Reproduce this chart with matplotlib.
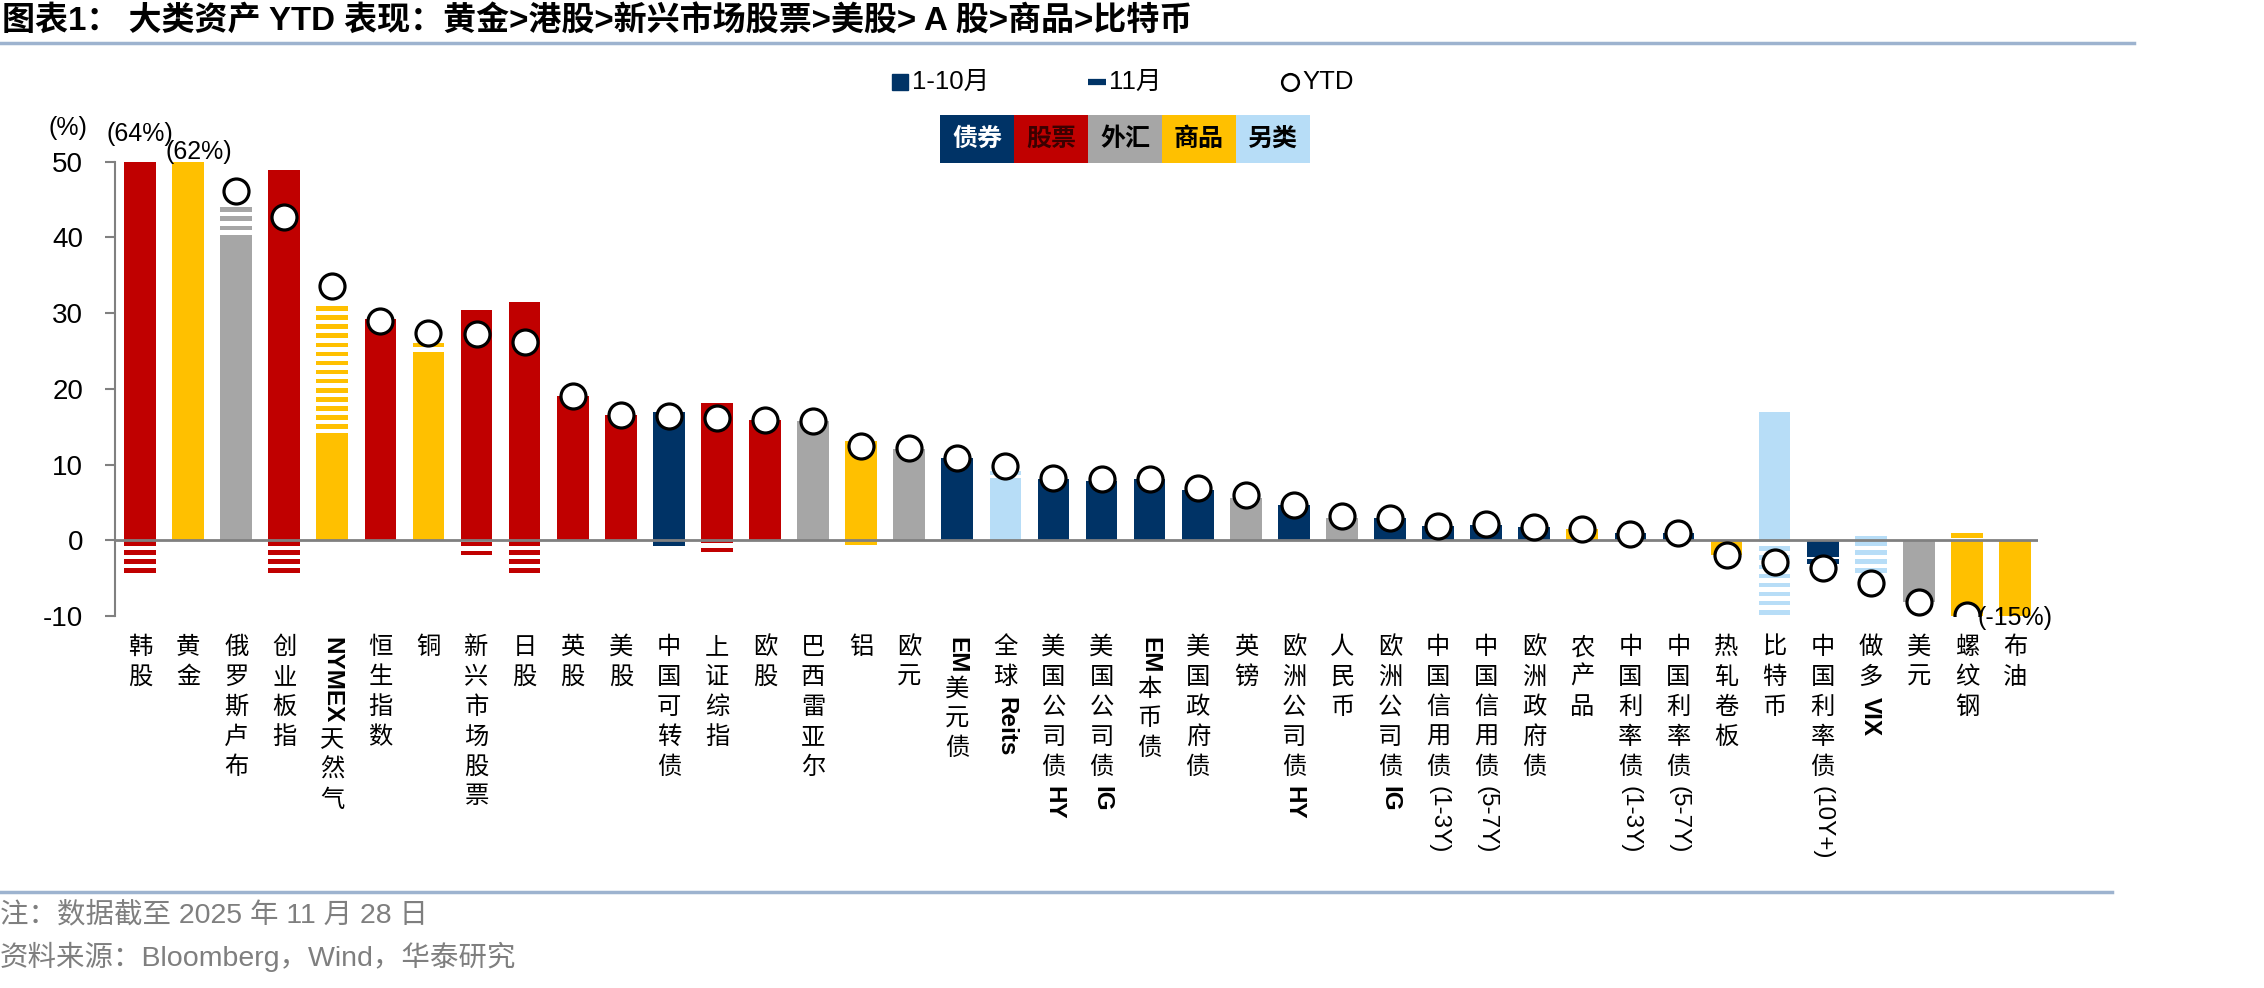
import matplotlib
matplotlib.use("Agg")
import matplotlib.pyplot as plt
from matplotlib.lines import Line2D
from matplotlib.patches import Rectangle
from matplotlib.textpath import TextPath
from matplotlib.font_manager import FontProperties

plt.rcParams['font.family'] = ['Liberation Sans', 'Noto Sans CJK SC', 'DejaVu Sans']
plt.rcParams['axes.unicode_minus'] = False

# ---------------------------------------------------------------------------
# Data (% returns)
# ---------------------------------------------------------------------------
categories = ["韩股", "黄金", "俄罗斯卢布", "创业板指", "NYMEX天然气", "恒生指数", "铜",
              "新兴市场股票", "日股", "英股", "美股", "中国可转债", "上证综指", "欧股",
              "巴西雷亚尔", "铝", "欧元", "EM美元债", "全球Reits", "美国公司债HY",
              "美国公司债IG", "EM本币债", "美国政府债", "英镑", "欧洲公司债HY", "人民币",
              "欧洲公司债IG", "中国信用债(1-3Y)", "中国信用债(5-7Y)", "欧洲政府债", "农产品",
              "中国利率债(1-3Y)", "中国利率债(5-7Y)", "热轧卷板", "比特币", "中国利率债(10Y+)",
              "做多VIX", "美元", "螺纹钢", "布油"]

asset_class = ["股票", "商品", "外汇", "股票", "商品", "股票", "商品",
               "股票", "股票", "股票", "股票", "债券", "股票", "股票",
               "外汇", "商品", "外汇", "债券", "另类", "债券",
               "债券", "债券", "债券", "外汇", "债券", "外汇",
               "债券", "债券", "债券", "债券", "商品",
               "债券", "债券", "商品", "另类", "债券",
               "另类", "外汇", "商品", "商品"]

jan_oct = [70.0, 57.5, 40.3, 48.85, 14.15, 29.2, 24.2, 30.4, 31.4, 18.9,
           16.5, 17.0, 18.1, 15.6, 15.35, 13.06, 11.7, 10.5, 8.25, 7.5,
           7.25, 7.98, 5.95, 5.07, 4.4, 2.5, 2.9, 1.9, 1.87, 1.55,
           0.93, 0.98, 0.98, -1.85, 16.9, -2.2, 0.6, -8.0, -10.6, -14.0]

nov = [-4.3, 3.0, 3.65, -4.3, 16.75, -0.1, 1.85, -2.0, -4.3, 0.1,
       0.1, -0.75, -1.6, 0.3, 0.4, -0.6, 0.4, 0.3, 0.95, 0.6,
       0.6, 0.15, 0.65, 0.5, 0.2, 0.45, 0.0, 0.05, 0.15, 0.2,
       0.5, -0.1, 0.0, -0.1, -17.0, -0.9, -4.3, -0.2, 0.9, -1.0]

ytd = [64.0, 62.0, 46.1, 42.7, 33.6, 29.0, 27.4, 27.25, 26.2, 19.0,
       16.6, 16.4, 16.1, 15.9, 15.8, 12.5, 12.2, 10.85, 9.8, 8.2,
       8.15, 8.15, 6.85, 5.95, 4.6, 3.2, 2.9, 1.95, 2.1, 1.8,
       1.5, 0.85, 1.0, -1.9, -2.9, -3.6, -5.7, -8.2, -9.8, -15.0]

class_names = ["债券", "股票", "外汇", "商品", "另类"]
class_colors = {"债券": "#003366", "股票": "#C00000", "外汇": "#A6A6A6",
                "商品": "#FFC000", "另类": "#B7DDF7"}
class_text = {"债券": "white", "股票": "#3A0000", "外汇": "black",
              "商品": "black", "另类": "black"}

# out-of-range YTD values get a text note
clip_notes = [(0, "(64%)"), (1, "(62%)"), (39, "(-15%)")]

BAR_W = 0.66
PITCH = 1.2     # stripe pitch for the 11月 segment (data units)
STRIPE = 0.6    # stripe thickness


def draw_stripes(ax, x, near, far, color):
    """Horizontal stripes from the far end back to the base."""
    sign = 1 if far > near else -1
    length = abs(far - near)
    k = 0
    while k * PITCH < length:
        f = far - sign * k * PITCH
        n = f - sign * STRIPE
        n = max(n, near) if sign > 0 else min(n, near)
        ax.bar(x, f - n, bottom=n, width=BAR_W, color=color, linewidth=0, zorder=2)
        k += 1


def vertical_label(ax, x, label, fs=17.5, pitch=21.5, start=13):
    """East-Asian style vertical label: CJK upright, latin runs rotated."""
    runs, cur = [], ""
    for ch in label:
        if ord(ch) < 128:
            cur += ch
        else:
            if cur:
                runs.append(cur)
                cur = ""
            runs.append(ch)
    if cur:
        runs.append(cur)
    off = start
    for r in runs:
        if ord(r[0]) >= 128:
            ax.annotate(r, xy=(x, 0), xycoords=("data", "axes fraction"),
                        xytext=(0, -off), textcoords="offset points",
                        ha="center", va="top", fontsize=fs,
                        family=["Noto Sans CJK SC"], annotation_clip=False)
            off += pitch
        else:
            bold = "(" not in r
            prop = FontProperties(family="Liberation Sans",
                                  weight="bold" if bold else "normal")
            w = TextPath((0, 0), r, size=fs, prop=prop).get_extents().width
            ax.annotate(r, xy=(x, 0), xycoords=("data", "axes fraction"),
                        xytext=(0, -off - 2), textcoords="offset points",
                        ha="center", va="top", rotation=-90, fontsize=fs,
                        fontweight="bold" if bold else "normal",
                        family=["Liberation Sans"], annotation_clip=False)
            off += w + 6


fig = plt.figure(figsize=(22.64, 9.88), dpi=100)
ax = fig.add_axes([0.0508, 0.3765, 0.8494, 0.46])

for i, (a, b, cls) in enumerate(zip(jan_oct, nov, asset_class)):
    col = class_colors[cls]
    ax.bar(i, a, width=BAR_W, color=col, linewidth=0, zorder=2)
    if b == 0:
        continue
    if (a >= 0) == (b >= 0):
        near, far = a, a + b
    else:
        near, far = 0, b
    draw_stripes(ax, i, near, far, col)

ax.axhline(0, color="#808080", lw=2, zorder=3)
ax.plot(range(len(ytd)), ytd, linestyle="none", marker="o", ms=18,
        mfc="white", mec="black", mew=2.3, zorder=4)

for idx, txt in clip_notes:
    if ytd[idx] > 50:
        ax.text(idx + (0.22 if idx == 1 else 0), 53.6 if idx == 0 else 51.3, txt,
                ha="center", va="center", fontsize=18, zorder=5, clip_on=False)
    else:
        ax.text(idx, -10.2, txt, ha="center", va="center", fontsize=18, zorder=5,
                clip_on=False)

ax.set_xlim(-0.52, 39.48)
ax.set_ylim(-10, 50)
ax.set_yticks(range(-10, 51, 10))
ax.tick_params(axis="y", labelsize=20, color="#808080", length=7, width=1.5, pad=16)
ax.set_xticks([])
for s in ["top", "right", "bottom"]:
    ax.spines[s].set_visible(False)
ax.spines["left"].set_color("#808080")
ax.spines["left"].set_linewidth(1.5)

for i, lab in enumerate(categories):
    vertical_label(ax, i, lab)

# title and separators
fig.text(0.001, 0.978, "图表1： 大类资产 YTD 表现：黄金>港股>新兴市场股票>美股> A 股>商品>比特币",
         fontsize=23.8, fontweight="bold", va="center", ha="left")
fig.add_artist(Line2D([0, 0.9426], [0.9565, 0.9565], color="#9DB3CF", lw=2.5))
fig.add_artist(Line2D([0, 0.933], [0.0972, 0.0972], color="#9DB3CF", lw=2.5))
fig.text(0.030, 0.8704, "(%)", fontsize=18, ha="center", va="center")

# series legend
ly = 0.917
fig.add_artist(Line2D([0.3975], [ly], marker="s", ms=12, color="#003366", linestyle="none"))
fig.text(0.4030, ly, "1-10月", fontsize=18.5, va="center")
fig.add_artist(Line2D([0.4845], [ly], marker="_", ms=13, mew=4.5, color="#003366", linestyle="none"))
fig.text(0.4900, ly, "11月", fontsize=18.5, va="center")
fig.add_artist(Line2D([0.5698], [ly], marker="o", ms=12, mfc="white", mec="black",
                      mew=1.8, linestyle="none"))
fig.text(0.5753, ly, "YTD", fontsize=18.5, va="center")

# asset class colour key
bx0, bw = 940 / 2264, 74 / 2264
by0, bh = 1 - 163 / 988, 48 / 988
for k, name in enumerate(class_names):
    fig.add_artist(Rectangle((bx0 + k * bw, by0), bw, bh, transform=fig.transFigure,
                             facecolor=class_colors[name], edgecolor="none"))
    fig.text(bx0 + (k + 0.5) * bw, by0 + bh / 2, name, fontsize=18, ha="center",
             va="center", color=class_text[name], fontweight="bold")

# notes
fig.text(0.0, 0.074, "注：数据截至 2025 年 11 月 28 日", fontsize=20.5, color="#7F7F7F",
         va="center")
fig.text(0.0, 0.031, "资料来源：Bloomberg，Wind，华泰研究", fontsize=20.5, color="#7F7F7F",
         va="center")

fig.savefig("out.png", dpi=100)
